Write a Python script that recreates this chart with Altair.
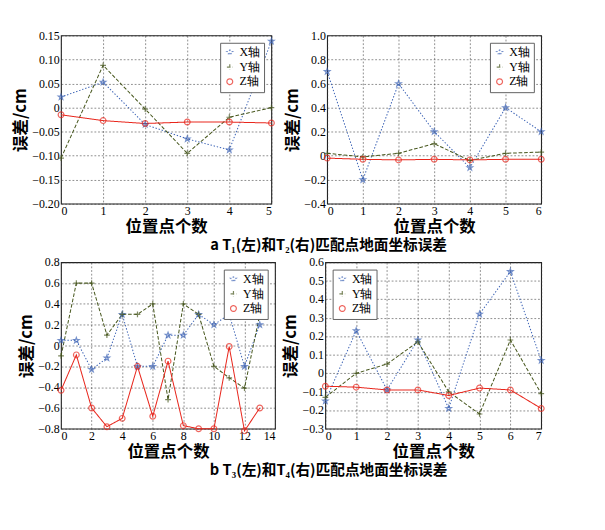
import altair as alt
import pandas as pd

series = ["X轴", "Y轴", "Z轴"]
colors = ["#3b62b5", "#46561c", "#e8261c"]
# Vega has no built-in star symbol: use an SVG path (unit coordinates) for it
STAR = ("M0,-1L0.235,-0.324L0.951,-0.309L0.380,0.124L0.588,0.809L0,0.4"
        "L-0.588,0.809L-0.380,0.124L-0.951,-0.309L-0.235,-0.324Z")
PLUS = "M-1,0L1,0M0,-1L0,1"
shapes = [STAR, PLUS, "circle"]

# Panel T1
t1_pos = [0, 1, 2, 3, 4, 5]
t1_X = [0.022, 0.053, -0.035, -0.065, -0.088, 0.138]
t1_Y = [-0.105, 0.088, -0.003, -0.095, -0.020, 0.000]
t1_Z = [-0.015, -0.027, -0.033, -0.030, -0.030, -0.032]

# Panel T2
t2_pos = [0, 1, 2, 3, 4, 5, 6]
t2_X = [0.70, -0.20, 0.60, 0.20, -0.10, 0.40, 0.20]
t2_Y = [0.02, -0.01, 0.02, 0.10, -0.04, 0.02, 0.03]
t2_Z = [-0.02, -0.03, -0.035, -0.03, -0.035, -0.03, -0.03]

# Panel T3
t3_pos = [0, 1, 2, 3, 4, 5, 6, 7, 8, 9, 10, 11, 12, 13]
t3_X = [0.05, 0.05, -0.23, -0.12, 0.30, -0.20, -0.20, 0.10, 0.10, 0.30, 0.20, 0.30, -0.20, 0.20]
t3_Y = [-0.10, 0.60, 0.60, 0.10, 0.30, 0.30, 0.40, -0.52, 0.40, 0.30, -0.20, -0.31, -0.41, 0.30]
t3_Z = [-0.43, -0.09, -0.60, -0.78, -0.70, -0.20, -0.68, -0.15, -0.77, -0.80, -0.80, -0.01, -0.82, -0.60]

# Panel T4
t4_pos = [0, 1, 2, 3, 4, 5, 6, 7]
t4_X = [-0.15, 0.23, -0.09, 0.18, -0.19, 0.32, 0.55, 0.07]
t4_Y = [-0.13, 0.00, 0.05, 0.17, -0.10, -0.22, 0.18, -0.11]
t4_Z = [-0.07, -0.075, -0.09, -0.09, -0.12, -0.08, -0.09, -0.19]

cap_a = "a    T₁(左)和T₂(右)匹配点地面坐标误差"
cap_b = "b    T₃(左)和T₄(右)匹配点地面坐标误差"

NUM_FONT = "Liberation Serif, Times New Roman, serif"
CJK_FONT = "Noto Sans CJK SC"


def make_df(pos, X, Y, Z):
    rows = []
    for name, vals in zip(series, [X, Y, Z]):
        for p, v in zip(pos, vals):
            rows.append({"pos": p, "err": v, "axis": name})
    return pd.DataFrame(rows)


def panel(df, xmax, xstep, ymin, ymax, ystep, decimals, legend_orient, w, h):
    nx = int(round(xmax / xstep))
    xvals = [i * xstep for i in range(nx + 1)]
    ny = int(round((ymax - ymin) / ystep))
    yvals = [round(ymin + i * ystep, 3) for i in range(ny + 1)]
    lab = "abs(datum.value) < 0.000001 ? '0' : format(datum.value, '.%df')" % decimals
    x = alt.X("pos:Q", scale=alt.Scale(domain=[0, xmax], nice=False),
              axis=alt.Axis(values=xvals, format="d", title="位置点个数"))
    y = alt.Y("err:Q", scale=alt.Scale(domain=[ymin, ymax], nice=False, zero=False),
              axis=alt.Axis(values=yvals, labelExpr=lab, title="误差/cm"))
    leg = alt.Legend(title=None, orient=legend_orient)
    color = alt.Color("axis:N", scale=alt.Scale(domain=series, range=colors), legend=leg)
    shape = alt.Shape("axis:N", scale=alt.Scale(domain=series, range=shapes), legend=leg)
    dash = alt.StrokeDash("axis:N", scale=alt.Scale(domain=series, range=[[1.5, 2], [4, 2], [1, 0]]),
                          legend=None)
    base = alt.Chart(df)
    lines = base.mark_line(strokeWidth=1.1).encode(x=x, y=y, color=color, strokeDash=dash)
    pts = base.mark_point(size=40, strokeWidth=1.3, filled=False).encode(x=x, y=y, color=color, shape=shape)
    return alt.layer(lines, pts).properties(width=w, height=h)


def caption(text, w):
    return alt.Chart(pd.DataFrame({"t": [text]})).mark_text(
        font=CJK_FONT, fontSize=16, fontWeight="bold", color="black"
    ).encode(text="t:N").properties(width=w, height=20, view=alt.ViewBackground(stroke="transparent"))


p1 = panel(make_df(t1_pos, t1_X, t1_Y, t1_Z), 5, 1, -0.20, 0.15, 0.05, 2, "top-right", 230, 184)
p2 = panel(make_df(t2_pos, t2_X, t2_Y, t2_Z), 6, 1, -0.4, 1.0, 0.2, 1, "top-right", 234, 184)
p3 = panel(make_df(t3_pos, t3_X, t3_Y, t3_Z), 14, 2, -0.8, 0.8, 0.2, 1, "top-right", 234, 182)
p4 = panel(make_df(t4_pos, t4_X, t4_Y, t4_Z), 7, 1, -0.3, 0.6, 0.1, 1, "top-left", 236, 182)

res = dict(color="independent", shape="independent", strokeDash="independent")
row1 = alt.hconcat(p1, p2, spacing=6).resolve_scale(**res)
row2 = alt.hconcat(p3, p4, spacing=6).resolve_scale(**res)

chart = alt.vconcat(row1, caption(cap_a, 585), row2, caption(cap_b, 585), spacing=0).resolve_scale(
    **res
).properties(
    padding={"left": 4, "top": 0, "right": 0, "bottom": 0}
).configure_view(
    stroke="#222", strokeWidth=1.2
).configure_axis(
    labelFont=NUM_FONT, labelFontSize=13, labelColor="black", labelPadding=2,
    titleFont=CJK_FONT, titleFontSize=18, titleFontWeight="bold", titleColor="black",
    grid=True, gridDash=[2, 2], gridColor="#333", gridOpacity=0.75, gridWidth=0.8,
    ticks=False, domain=False,
).configure_axisX(titlePadding=1).configure_axisY(titlePadding=3).configure_legend(
    fillColor="white", strokeColor="#555", padding=4, labelFont=NUM_FONT, labelFontSize=13,
    labelColor="black", symbolSize=40, rowPadding=2, offset=8, cornerRadius=0,
    symbolStrokeWidth=1.3
)

chart.save("out.html", embed_options={"renderer": "svg", "actions": False})
